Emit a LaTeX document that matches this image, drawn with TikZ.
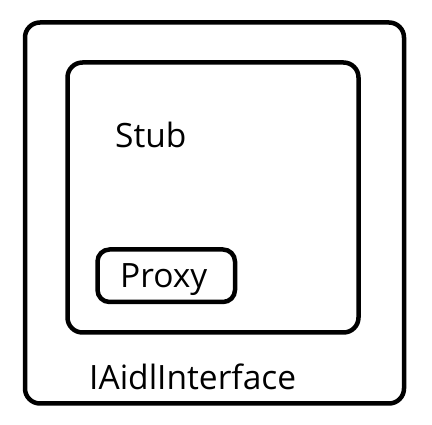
\documentclass[tikz,border=0pt]{standalone}
\usepackage{fontspec}
\setmainfont{Open Sans}
\usetikzlibrary{positioning}

\begin{document}
\begin{tikzpicture}[x=1pt,y=-1pt,
  frame/.style={rectangle,draw=black,line width=4.5pt,rounded corners=15pt,inner sep=0pt},
  small/.style={rectangle,draw=black,line width=4.5pt,rounded corners=12pt,inner sep=0pt},
  lbl/.style={anchor=base west,inner sep=0pt,font=\fontsize{33.5}{38}\selectfont}
]
  \useasboundingbox (0,0) rectangle (432,425);
  \node[frame,minimum width=379pt,minimum height=381pt](iface) at (214.5,213)   {};
  \node[frame,minimum width=291pt,minimum height=270pt](stub)  at (213,197.5)   {};
  \node[small,minimum width=137.5pt,minimum height=52.5pt](proxy) at (166.25,275.75) {};
  \node[lbl](stubtxt)  at (115,148) {Stub};
  \node[lbl](proxytxt) at (120,288) {Proxy};
  \node[lbl](ifacetxt) at (89,390)  {IAidlInterface};
\end{tikzpicture}
\end{document}
